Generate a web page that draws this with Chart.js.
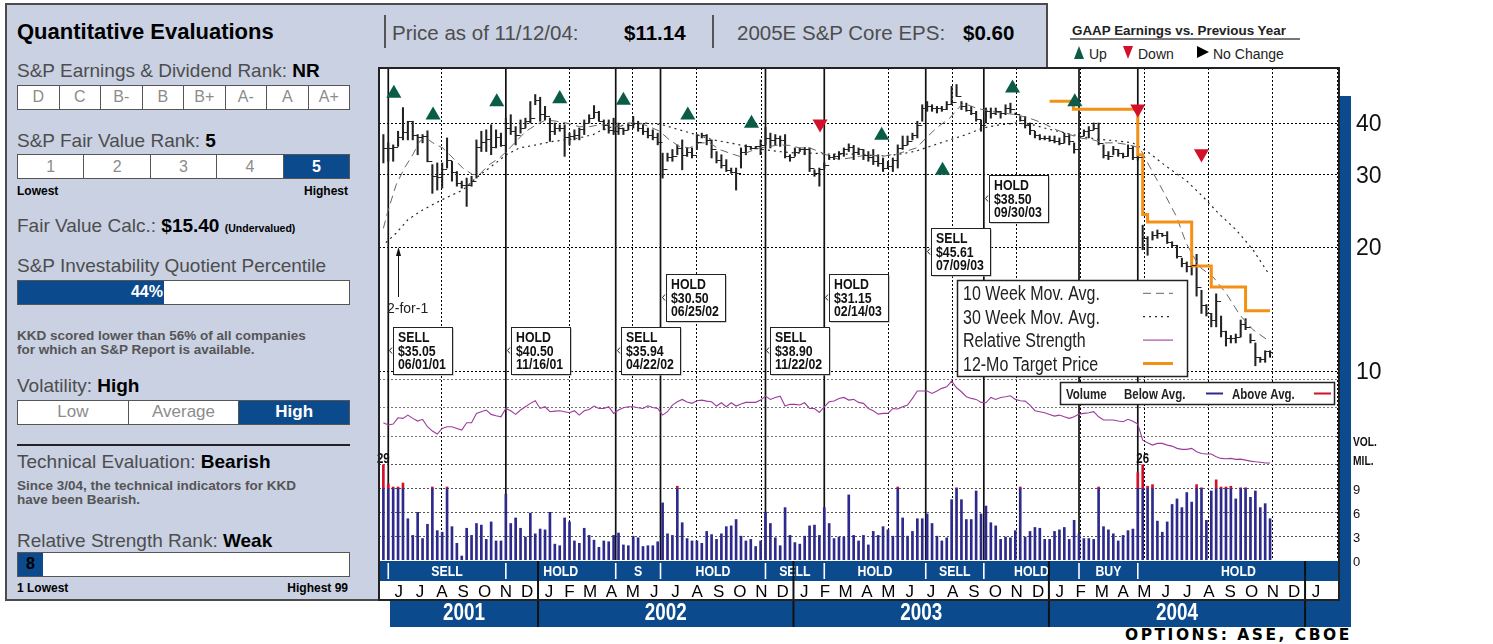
<!DOCTYPE html>
<html lang="en">
<head>
<meta charset="utf-8">
<title>KKD - Quantitative Evaluations</title>
<script src="https://cdn.jsdelivr.net/npm/chart.js@4.4.1/dist/chart.umd.min.js"></script>
<style>
  html, body { margin: 0; padding: 0; background: #fff; }
  body { position: relative; width: 1493px; height: 644px; overflow: hidden;
         font-family: "Liberation Sans", Arial, sans-serif; color: #4d4d4d; }
  #panel, #head { position: absolute; box-sizing: border-box; background: #c9d1e3; }
  #panel { left: 5px; top: 3px; width: 375px; height: 598px; border: 2px solid #4b4b4b; border-right: none; }
  #head { left: 378px; top: 3px; width: 670px; height: 66px; border-top: 2px solid #4b4b4b; border-right: 2px solid #4b4b4b; }
  .t { position: absolute; line-height: 1; white-space: nowrap; }
  .k { color: #000; font-weight: bold; }
  .cells { position: absolute; left: 17px; width: 333px; display: flex; box-sizing: border-box;
           border: 1.5px solid #555; background: #fff; }
  .cells span { flex: 1; text-align: center; border-left: 1.5px solid #555; color: #8c8c8c; }
  .cells span:first-child { border-left: none; }
  .cells .on { background: #0b4a8c; color: #fff; font-weight: bold; }
  .sep { position: absolute; width: 1.5px; background: #555; }
  .tri { position: absolute; width: 0; height: 0; }
  #chart { position: absolute; left: 0; top: 0; z-index: 2; }
</style>
</head>
<body>
<div id="panel"></div>
<div id="head"></div>

<div class="t k" style="left:17px;top:21px;font-size:22px">Quantitative Evaluations</div>
<div class="t" style="left:17px;top:60.5px;font-size:19px">S&amp;P Earnings &amp; Dividend Rank: <span class="k">NR</span></div>
<div class="cells" style="top:85px;height:25px;font-size:16px;line-height:22px">
  <span>D</span><span>C</span><span>B-</span><span>B</span><span>B+</span><span>A-</span><span>A</span><span>A+</span></div>
<div class="t" style="left:17px;top:130.5px;font-size:19px">S&amp;P Fair Value Rank: <span class="k">5</span></div>
<div class="cells" style="top:154px;height:25px;font-size:16px;line-height:23px">
  <span>1</span><span>2</span><span>3</span><span>4</span><span class="on">5</span></div>
<div class="t k" style="left:17px;top:185px;font-size:12px">Lowest</div>
<div class="t k" style="left:17px;top:185px;width:331px;text-align:right;font-size:12px">Highest</div>
<div class="t" style="left:17px;top:216px;font-size:19px">Fair Value Calc.: <span class="k">$15.40</span> <span class="k" style="font-size:10.5px">(Undervalued)</span></div>
<div class="t" style="left:17px;top:255.5px;font-size:19px">S&amp;P Investability Quotient Percentile</div>
<div class="cells" style="top:280px;height:25px;font-size:16px;line-height:22px">
  <span class="on" style="flex:none;width:146px;text-align:right;padding-right:1px;box-sizing:border-box">44%</span><span style="border-left:none"></span></div>
<div class="t" style="left:17px;top:329px;font-size:13.5px;line-height:13.6px;font-weight:bold;color:#555">KKD scored lower than 56% of all companies<br>for which an S&amp;P Report is available.</div>
<div class="t" style="left:17px;top:375.5px;font-size:19px">Volatility: <span class="k">High</span></div>
<div class="cells" style="top:400px;height:25px;font-size:17px;line-height:22px">
  <span>Low</span><span>Average</span><span class="on">High</span></div>
<div style="position:absolute;left:17px;top:444px;width:333px;height:1.5px;background:#222"></div>
<div class="t" style="left:17px;top:452px;font-size:19px">Technical Evaluation: <span class="k">Bearish</span></div>
<div class="t" style="left:17px;top:478.5px;font-size:13.5px;line-height:14.3px;font-weight:bold;color:#555">Since 3/04, the technical indicators for KKD<br>have been Bearish.</div>
<div class="t" style="left:17px;top:530.5px;font-size:19px">Relative Strength Rank: <span class="k">Weak</span></div>
<div class="cells" style="top:552px;height:25px;font-size:16px;line-height:22px">
  <span class="on" style="flex:none;width:25px;color:#000">8</span><span style="border-left:none"></span></div>
<div class="t k" style="left:17px;top:581.5px;font-size:12px">1 Lowest</div>
<div class="t k" style="left:17px;top:581.5px;width:331px;text-align:right;font-size:12px">Highest 99</div>

<div class="sep" style="left:384px;top:15px;height:33px"></div>
<div class="sep" style="left:712px;top:15px;height:33px"></div>
<div class="t" style="left:392px;top:22.5px;font-size:20.5px">Price as of 11/12/04:</div>
<div class="t k" style="left:624px;top:22.5px;font-size:20.5px">$11.14</div>
<div class="t" style="left:737px;top:22.5px;font-size:20.5px">2005E S&amp;P Core EPS:</div>
<div class="t k" style="left:963px;top:22.5px;font-size:20.5px">$0.60</div>

<div class="t" style="left:1072px;top:23.5px;font-size:13.4px;font-weight:bold;color:#222">GAAP Earnings vs. Previous Year</div>
<div style="position:absolute;left:1070px;top:38px;width:230px;height:2px;background:#777"></div>
<div class="tri" style="left:1074px;top:46px;border-left:5.5px solid transparent;border-right:5.5px solid transparent;border-bottom:13px solid #0b5c46"></div>
<div class="t" style="left:1089px;top:47px;font-size:14px;color:#222">Up</div>
<div class="tri" style="left:1123px;top:46px;border-left:5.5px solid transparent;border-right:5.5px solid transparent;border-top:13px solid #d3102a"></div>
<div class="t" style="left:1138px;top:47px;font-size:14px;color:#222">Down</div>
<div class="tri" style="left:1197px;top:46px;border-top:6.5px solid transparent;border-bottom:6.5px solid transparent;border-left:12px solid #000"></div>
<div class="t" style="left:1213px;top:47px;font-size:14px;color:#222">No Change</div>
<div class="t" style="left:1125px;top:628px;font-size:15.5px;font-family:'DejaVu Sans',sans-serif;font-weight:bold;letter-spacing:2.5px;color:#000">OPTIONS: ASE, CBOE</div>

<canvas id="chart" width="1493" height="644"></canvas>

<script>
// weekly bars, first bar is the week ending 2001-05-25
const weekStart = '2001-05-25';
const highs = [37.5,35.8,35.4,38.2,43.6,40.4,40.4,37.5,37.5,38.3, 31.7,32.0,32.0,36.8,32.3,30.5,28.9,29.4,29.7,36.4,
  38.2,38.5,39.6,38.5,37.8,41.1,41.9,39.2,40.7,41.1, 45.1,46.9,46.2,43.9,41.1,40.0,39.6,39.6,37.8,38.5,
  38.9,40.7,41.9,44.1,42.7,40.7,40.7,41.1,40.0,38.9, 40.0,41.5,40.4,39.6,38.9,38.5,37.8,33.8,33.8,34.5,
  35.4,36.4,34.8,34.8,37.5,37.8,37.5,36.4,34.1,33.5, 32.6,31.1,31.1,34.8,35.4,35.1,35.1,36.4,39.0,37.8,
  37.5,37.2,37.5,33.5,34.8,34.8,34.9,34.8,30.8,31.1, 32.0,33.4,33.6,34.1,34.8,35.6,35.3,34.8,34.5,34.1,
  34.5,33.5,32.9,32.3,32.9,35.4,37.2,37.2,37.8,40.4, 44.3,45.1,44.3,43.9,43.9,45.1,49.1,49.6,45.1,44.7,
  43.9,42.7,40.7,43.5,43.5,43.5,42.7,44.3,44.7,42.3, 41.5,41.5,40.0,38.2,37.5,37.2,37.2,37.2,36.8,37.8,
  37.5,35.8,37.8,38.5,39.2,40.0,40.0,35.4,34.1,35.1, 34.5,33.8,35.4,35.1,33.5,22.6,21.2,21.8,22.0,21.6,
  21.8,20.6,20.2,18.8,18.4,18.3,19.2,15.7,14.5,13.8, 15.4,13.6,12.5,12.2,12.3,13.3,13.4,12.3,11.7,10.8,
  11.2,11.2];
const lows = [32.0,32.3,32.3,35.1,36.4,36.4,36.4,33.5,35.8,32.2, 27.0,27.5,27.8,31.1,28.9,28.1,27.8,25.1,28.1,29.4,
  34.1,34.1,33.5,34.8,35.1,34.1,37.5,35.4,37.8,38.9, 40.0,44.3,40.4,40.7,36.1,37.5,38.2,33.2,35.4,36.4,
  36.4,37.5,40.0,41.1,40.4,38.5,37.8,37.5,37.5,37.5, 38.5,38.9,38.2,37.5,36.8,36.4,35.4,29.4,32.3,32.3,
  33.5,30.8,33.2,32.9,34.5,36.8,35.4,32.9,32.0,31.1, 30.5,30.2,27.5,31.1,33.5,34.5,34.6,33.5,35.4,34.8,
  35.4,35.1,32.9,32.3,33.2,34.1,33.5,30.5,29.7,28.1, 31.1,32.6,32.6,32.6,33.2,34.1,32.6,33.5,32.6,32.3,
  31.7,31.4,30.5,31.1,30.5,31.1,34.5,35.4,36.4,36.8, 40.4,42.7,42.7,42.3,42.7,43.1,44.3,46.4,43.1,42.7,
  41.9,40.4,38.2,40.0,41.1,41.9,41.1,41.9,42.3,41.9, 40.4,38.9,37.5,36.8,36.4,36.4,36.1,35.8,35.4,35.8,
  35.4,33.8,36.4,37.2,36.8,38.5,35.4,32.9,32.6,33.5, 33.2,32.9,33.2,32.6,32.5,19.7,19.1,20.8,21.0,21.2,
  20.4,20.0,18.8,17.9,17.4,17.1,15.2,13.8,13.6,12.8, 12.8,12.1,11.5,11.7,11.7,12.1,12.6,11.7,10.3,10.5,
  10.5,10.8];
const closes = [34.8,34.8,35.0,37.0,38.0,40.4,37.5,37.0,37.2,32.3, 29.8,29.5,31.0,32.5,30.5,28.6,28.3,28.3,29.0,35.0,
  36.0,36.5,35.0,37.0,35.4,39.0,38.2,37.5,39.0,40.4, 41.1,45.5,42.0,41.5,38.2,38.9,38.9,37.0,37.2,37.5,
  38.6,40.0,41.1,42.5,40.4,39.6,38.5,38.2,38.9,38.5, 39.6,40.0,39.0,38.2,37.5,37.0,36.0,31.0,33.0,33.2,
  34.8,33.5,34.0,33.5,36.0,37.5,36.4,34.5,32.5,31.7, 30.8,30.5,30.2,34.1,35.1,34.8,35.1,35.4,36.8,36.4,
  36.8,36.4,33.2,33.0,34.1,34.5,34.5,31.1,30.2,31.0, 31.7,33.0,33.2,33.8,34.5,35.0,34.0,34.5,33.5,33.0,
  32.3,32.0,31.1,31.4,32.6,34.8,35.4,36.1,37.5,39.5, 43.5,43.9,43.5,43.5,43.2,44.5,45.0,46.5,44.0,43.1,
  42.3,41.0,39.6,42.7,42.3,42.7,42.3,43.5,43.2,42.0, 40.7,39.6,38.5,37.5,36.8,36.8,36.4,36.1,35.8,37.2,
  36.1,34.5,37.2,38.2,38.5,39.0,35.8,33.5,33.2,34.5, 33.8,33.2,34.8,33.0,33.0,21.0,20.0,21.4,21.6,21.4,
  20.6,20.2,19.0,18.3,18.0,18.1,16.0,14.5,13.8,13.3, 14.8,12.5,12.0,12.0,12.1,13.0,12.8,11.9,10.8,10.7,
  11.2,11.1];
// weekly volume, millions of shares
const volumes = [29,9.6,9.2,9.2,9.7,5.2,3.1,6.0,2.7,4.5, 9.2,3.7,3.5,9.2,4.2,2.1,0.5,4.0,3.1,4.6,
  4.4,2.6,4.8,2.4,2.4,8.3,4.6,5.3,4.0,2.9, 5.9,3.3,3.9,3.8,6.0,2.0,1.8,5.3,4.8,2.4,
  2.1,4.0,3.1,2.5,1.6,2.4,2.3,3.1,3.4,1.9, 1.8,3.0,2.8,1.7,1.8,1.8,2.3,7.2,3.3,3.1,
  9.3,4.7,2.7,2.4,2.4,2.1,3.6,3.2,2.6,3.3, 4.2,4.3,5.1,3.0,2.4,2.6,1.7,2.4,6.0,4.6,
  2.8,1.8,6.6,3.1,2.2,2.0,3.0,4.3,4.4,3.1, 6.6,4.6,2.7,2.9,2.9,8.2,3.1,2.4,3.1,1.9,
  3.6,3.1,4.2,3.8,3.0,9.2,5.3,3.0,3.6,5.2, 5.2,5.8,4.6,3.0,2.4,2.8,7.6,9.1,7.6,5.1,
  5.1,8.7,5.8,6.8,4.7,4.3,2.6,2.9,2.8,3.7, 9.2,2.9,3.6,4.1,4.0,2.6,2.6,3.6,3.8,4.1,
  2.6,5.0,3.3,2.7,2.7,2.6,9.2,4.2,3.8,3.3, 2.4,3.1,3.7,3.9,11.0,26,9.3,9.5,4.9,3.5,
  4.8,7.0,7.7,6.6,8.5,7.3,9.5,9.1,5.0,8.7, 10.1,9.2,9.2,9.3,7.7,9.1,9.1,7.9,8.7,6.6,
  7.1,5.2];
// relative strength, index units
const relStrength = [89.4,87.8,88.5,92.9,92.5,94.8,92.5,90.6,91.8,86.6, 83.5,81.4,85.4,86.6,86.6,85.4,84.2,89.4,89.4,96.0,
  97.2,98.4,95.3,94.3,93.6,99.5,97.9,95.3,98.4,100.7, 103.1,104.9,99.5,100.7,97.2,97.6,97.9,97.2,96.5,97.9,
  94.8,97.9,98.8,101.2,99.5,99.5,100.7,96.0,98.4,100.0, 100.7,100.7,100.0,99.5,101.4,100.2,99.5,94.8,97.2,101.9,
  104.2,105.9,104.0,103.1,104.9,105.4,104.7,104.2,101.2,103.5, 100.7,103.5,101.2,102.6,103.8,103.8,103.8,105.4,108.2,105.9,
  107.3,108.2,101.2,102.4,102.4,101.9,103.5,99.5,99.5,96.7, 100.7,104.2,104.7,106.6,107.3,105.4,105.9,103.8,103.1,99.5,
  97.9,95.5,96.0,96.0,99.5,99.1,100.7,101.9,106.6,111.8, 111.8,111.8,110.1,111.8,113.7,114.8,118.8,114.1,111.3,107.8,
  106.6,105.9,103.8,103.5,107.3,105.9,107.3,107.8,108.5,105.9, 104.9,104.7,101.9,97.9,97.2,96.5,95.3,94.1,94.8,93.6,
  92.5,93.6,95.5,96.0,96.5,97.2,93.6,91.3,91.3,91.3, 90.6,90.1,91.8,90.5,88.5,77.1,75.3,73.6,74.8,74.8,
  73.6,72.9,71.3,70.6,70.6,71.3,68.9,67.7,67.3,67.3, 65.4,64.2,64.0,64.2,63.5,63.7,63.0,62.3,61.8,61.5,
  61.0,61.0];
// moving averages, keyed by week number
const ma10Weeks = [0,0.9,2.6,4.3,6.0,7.4,8.7,10.1,12.1,14.2, 16.2,18.2,19.6,21.6,23.7,25.1,27.1,29.1,31.2,33.2,
  35.3,37.3,40.0,42.1,44.1,46.2,48.2,50.2,52.3,54.3, 56.4,58.4,60.4,62.5,64.5,66.6,68.6,70.7,72.7,74.7,
  76.8,78.8,80.9,82.9,85.0,87.0,89.0,91.1,93.1,95.2, 97.2,98.6,102.0,105.4,108.8,110.8,112.9,115.6,118.3,121.0,
  123.8,126.5,129.2,131.9,134.6,137.4,140.1,142.1,144.9,146.9, 149.6,152.3,154.4,156.4,159.2,161.9,163.9,166.6,169.4,172.1,
  174.8,177.5,180.9];
const ma10 = [22.2,24.4,28.3,31.1,33.5,36.1,36.8,35.8,34.8,32.9, 31.1,30.0,30.0,31.7,32.9,34.1,36.1,38.2,39.6,40.7,
  40.4,40.0,39.2,39.2,39.6,39.6,39.2,40.0,40.0,39.2, 38.2,36.4,35.1,34.8,35.8,35.8,34.5,33.8,33.2,34.1,
  34.8,35.1,35.4,35.3,34.8,34.8,34.1,33.2,32.6,32.9, 33.2,33.5,33.2,33.8,34.8,36.8,38.9,41.1,44.7,43.5,
  42.7,42.3,41.9,41.1,40.0,38.5,37.5,36.8,36.4,35.8, 35.8,35.4,34.8,31.4,27.3,23.7,20.4,17.9,16.9,15.4,
  13.7,12.6,11.8];
const ma30Weeks = [0.5,2.6,5.0,8.0,12.1,16.2,18.9,21.6,25.1,27.8, 31.2,34.6,37.3,40.0,42.8,44.1,46.8,50.2,53.6,57.0,
  60.4,63.9,67.3,70.7,74.1,77.5,80.9,84.3,87.7,91.1, 94.5,97.2,98.6,102.0,105.4,108.8,112.2,115.6,119.0,122.4,
  125.8,129.2,132.6,136.0,139.4,142.8,146.2,149.6,153.0,156.4, 159.8,163.9,167.3,170.7,174.1,177.5,180.9];
const ma30 = [20.5,21.6,23.3,24.6,26.1,27.5,29.4,31.1,33.5,34.8, 35.4,36.1,36.4,36.8,37.5,38.2,39.2,39.6,40.0,39.6,
  38.5,37.5,36.4,35.8,35.1,34.5,34.1,33.8,33.8,33.6, 33.6,33.6,33.4,33.3,33.6,34.2,35.3,36.4,37.5,38.9,
  39.6,40.0,39.6,38.6,37.8,37.0,36.5,36.2,35.8,33.8, 31.4,29.0,26.5,24.0,22.0,19.7,17.1];
// 12-month target price changes
const targetDates = ['2004-01-02','2004-02-05','2004-05-07','2004-05-14','2004-05-21','2004-07-23','2004-08-20','2004-10-08','2004-11-12'];
const targetPrices = [45.2, 43.2, 33.5, 24.0, 23.0, 18.0, 16.0, 14.0, 14.0];
// GAAP earnings vs previous year markers
const gaapDates = ['2001-06-09','2001-08-04','2001-11-03','2002-02-01','2002-05-03','2002-08-03','2002-11-02',
  '2003-02-08','2003-05-07','2003-08-02','2003-11-10','2004-02-07','2004-05-07','2004-08-06'];
const gaapLevels = [47.2, 41.8, 45.0, 45.8, 45.4, 41.8, 39.9, 39.8, 37.3, 30.7, 48.6, 45.0, 43.3, 33.7];
const gaapMoves = ['up','up','up','up','up','up','up','down','up','up','up','up','down','down'];
// S&P recommendation changes
const callDates = ['2001-06-01','2001-11-16','2002-04-22','2002-06-25','2002-11-22','2003-02-14','2003-07-09','2003-09-30','2004-02-13','2004-05-07'];
const calls = ['SELL','HOLD','SELL','HOLD','SELL','HOLD','SELL','HOLD','BUY','HOLD'];
const callPrices = [35.05, 40.50, 35.94, 30.50, 38.90, 31.15, 45.61, 38.50, null, null];
const splitDate = '2001-06-15';
const priceTicks = [10, 20, 30, 40];
const volumeTicks = [0, 3, 6, 9];
const monthLetters = ['J','F','M','A','M','J','J','A','S','O','N','D'];
const years = [2001, 2002, 2003, 2004];

const SANS = '"Liberation Sans", Arial, sans-serif';
const BLUE = '#0b4a8c', GREEN = '#0b5c46', RED = '#d3102a', ORANGE = '#f39116', PURPLE = '#9c3c9c', NAVY = '#2d2a8c';

const dayOf = s => {
  const p = s.split('-').map(Number);
  return (Date.UTC(p[0], p[1] - 1, p[2]) - Date.UTC(2001, 0, 1)) / 864e5;
};
const w0 = dayOf(weekStart);
const weekDay = i => w0 + 7 * i;
const X_MIN = 137.75, X_MAX = 1509.5;

const quarterDays = [];
for (let y = 2001; y <= 2005; y++) {
  for (const m of ['01', '04', '07', '10']) {
    const d = dayOf(`${y}-${m}-01`);
    if (d > X_MIN && d < X_MAX) quarterDays.push(d);
  }
}

function seg(ctx, x1, y1, x2, y2) {
  ctx.beginPath(); ctx.moveTo(x1, y1); ctx.lineTo(x2, y2); ctx.stroke();
}
// condensed text: squeeze Liberation Sans horizontally
function narrow(ctx, text, x, y, sx) {
  ctx.save();
  ctx.translate(x, y);
  ctx.scale(sx || 0.82, 1);
  ctx.fillText(text, 0, 0);
  ctx.restore();
}
function fmtDate(s) {
  const p = s.split('-');
  return `${p[1]}/${p[2]}/${p[0].slice(2)}`;
}

const deco = {
  id: 'deco',
  beforeDatasetsDraw(chart) {
    const { ctx, chartArea: a, scales: { x } } = chart;
    ctx.save();
    ctx.strokeStyle = '#111';
    ctx.lineWidth = 1.7;
    callDates.forEach(d => {
      const px = x.getPixelForValue(dayOf(d));
      seg(ctx, px, a.top, px, a.bottom);
    });
    ctx.restore();
  },
  afterDatasetsDraw(chart) {
    const { ctx, chartArea: a, scales: { x, yP, yV } } = chart;
    ctx.save();
    ctx.beginPath();
    ctx.rect(a.left, a.top, a.right - a.left, a.bottom - a.top);
    ctx.clip();
    // open / close ticks on the weekly bars
    ctx.strokeStyle = '#222';
    ctx.lineWidth = 1;
    closes.forEach((c, i) => {
      const px = x.getPixelForValue(weekDay(i));
      const yc = Math.round(yP.getPixelForValue(c)) + 0.5;
      seg(ctx, px, yc, px + 2.6, yc);
      if (i > 0) {
        const yo = Math.round(yP.getPixelForValue(closes[i - 1])) + 0.5;
        seg(ctx, px - 2.6, yo, px, yo);
      }
    });
    ctx.restore();

    ctx.save();
    // volume values that run off the top of the panel
    ctx.fillStyle = '#111';
    ctx.font = `bold 14px ${SANS}`;
    ctx.textAlign = 'center';
    volumes.forEach((v, i) => {
      if (v > 12) narrow(ctx, String(Math.round(v)), x.getPixelForValue(weekDay(i)), yV.getPixelForValue(12) - 2);
    });

    // stock split note
    const sx = Math.round(x.getPixelForValue(dayOf(splitDate))) + 0.5;
    ctx.strokeStyle = '#111';
    ctx.lineWidth = 1;
    seg(ctx, sx, 250, sx, 297);
    ctx.beginPath(); ctx.moveTo(sx, 247); ctx.lineTo(sx - 2.5, 256); ctx.lineTo(sx + 2.5, 256); ctx.closePath(); ctx.fill();
    ctx.font = `14px ${SANS}`;
    ctx.textAlign = 'left';
    ctx.fillStyle = '#222';
    ctx.fillText('2-for-1', 387, 313);

    // recommendation boxes
    const boxTop = [327, 327, 327, 274, 327, 274, 228, 175];
    ctx.font = `bold 15px ${SANS}`;
    callDates.forEach((d, i) => {
      if (callPrices[i] == null) return;
      const bx = Math.round(x.getPixelForValue(dayOf(d))) + 5, by = boxTop[i], w = 59, h = 47;
      ctx.fillStyle = '#9a9a9a';
      ctx.fillRect(bx + 1.5, by + 1.5, w, h);
      ctx.fillStyle = '#fff';
      ctx.fillRect(bx, by, w, h);
      ctx.strokeStyle = '#222';
      ctx.lineWidth = 1;
      ctx.strokeRect(bx + 0.5, by + 0.5, w, h);
      ctx.beginPath();
      ctx.moveTo(bx - 1, by + h / 2 - 3); ctx.lineTo(bx - 3.5, by + h / 2); ctx.lineTo(bx - 1, by + h / 2 + 3);
      ctx.stroke();
      ctx.fillStyle = '#111';
      narrow(ctx, calls[i], bx + 5, by + 15);
      narrow(ctx, '$' + callPrices[i].toFixed(2), bx + 5, by + 28.5);
      narrow(ctx, fmtDate(d), bx + 5, by + 42);
    });

    // line legend
    const items = chart.data.datasets.filter(ds => ds.legendText)
      .sort((p, q) => p.legendOrder - q.legendOrder);
    ctx.fillStyle = '#fff';
    ctx.fillRect(957, 280, 230, 96);
    ctx.strokeStyle = '#222';
    ctx.lineWidth = 1.5;
    ctx.strokeRect(957.5, 280.5, 230, 96);
    ctx.font = `19.5px ${SANS}`;
    items.forEach((ds, k) => {
      const ly = 293.3 + k * 23.4;
      ctx.fillStyle = '#222';
      narrow(ctx, ds.legendText, 963, ly + 7);
      ctx.strokeStyle = ds.borderColor;
      ctx.lineWidth = ds.borderWidth;
      ctx.setLineDash(ds.borderDash || []);
      seg(ctx, 1143, ly, 1173, ly);
      ctx.setLineDash([]);
    });

    // volume legend
    ctx.fillStyle = '#fff';
    ctx.fillRect(1060, 382, 274, 22);
    ctx.strokeStyle = '#222';
    ctx.lineWidth = 1.5;
    ctx.strokeRect(1060.5, 382.5, 274, 22);
    ctx.font = `bold 14px ${SANS}`;
    ctx.fillStyle = '#222';
    narrow(ctx, 'Volume', 1066, 398.5);
    narrow(ctx, 'Below Avg.', 1124, 398.5);
    narrow(ctx, 'Above Avg.', 1232, 398.5);
    ctx.lineWidth = 2;
    ctx.strokeStyle = NAVY; seg(ctx, 1206, 393.5, 1223, 393.5);
    ctx.strokeStyle = RED; seg(ctx, 1314, 393.5, 1331, 393.5);
    ctx.restore();
  },
  afterDraw(chart) {
    const { ctx, chartArea: a, scales: { x, yP, yV } } = chart;
    const px = d => x.getPixelForValue(d);
    ctx.save();
    // recommendation band, month row, year band, right strip
    ctx.fillStyle = BLUE;
    ctx.fillRect(a.left, 561, a.right - a.left, 20);
    ctx.fillStyle = '#fff';
    ctx.fillRect(a.left, 581, a.right - a.left, 19);
    ctx.fillStyle = BLUE;
    ctx.fillRect(390, 600, 961, 27);
    ctx.fillRect(a.right + 1, 96, 11, 531);

    const callPx = callDates.map(d => px(dayOf(d)));
    ctx.strokeStyle = '#fff';
    ctx.lineWidth = 1.6;
    callPx.forEach(p => seg(ctx, p, 563, p, 579));
    ctx.fillStyle = '#fff';
    ctx.font = `bold 15px ${SANS}`;
    ctx.textAlign = 'center';
    callPx.forEach((p, i) => {
      const end = i < callPx.length - 1 ? callPx[i + 1] : a.right;
      const label = end - p < 50 ? calls[i][0] : calls[i];
      narrow(ctx, label, (p + end) / 2, 576);
    });

    // month letters
    ctx.fillStyle = '#000';
    ctx.font = `17px ${SANS}`;
    for (let y = 2001; y <= 2005; y++) {
      for (let m = 0; m < 12; m++) {
        const s = (Date.UTC(y, m, 1) - Date.UTC(2001, 0, 1)) / 864e5;
        const e = (Date.UTC(y, m + 1, 1) - Date.UTC(2001, 0, 1)) / 864e5;
        if (s < X_MIN || e > X_MAX) continue;
        ctx.fillText(monthLetters[m], (px(s) + px(e)) / 2, 597);
      }
    }

    // years
    ctx.fillStyle = '#fff';
    ctx.font = `bold 23px ${SANS}`;
    years.forEach(y => {
      const l = Math.max(px(dayOf(`${y}-01-01`)), 390);
      const r = px(dayOf(`${y + 1}-01-01`));
      narrow(ctx, String(y), (l + r) / 2, 620);
    });
    ctx.strokeStyle = '#111';
    ctx.lineWidth = 2;
    [2002, 2003, 2004, 2005].forEach(y => {
      const p = px(dayOf(`${y}-01-01`));
      seg(ctx, p, 561, p, 627);
    });

    // frame
    ctx.strokeStyle = '#222';
    ctx.lineWidth = 2;
    seg(ctx, 378, 68, a.right + 1, 68);
    seg(ctx, a.left, 68, a.left, 601);
    seg(ctx, a.right, 68, a.right, 601);
    seg(ctx, a.left, 600, a.right, 600);

    // axis labels on the right
    ctx.textAlign = 'left';
    ctx.fillStyle = '#111';
    ctx.font = `23px ${SANS}`;
    priceTicks.forEach(v => ctx.fillText(String(v), 1356, yP.getPixelForValue(v) + 8.3));
    ctx.font = `bold 12.5px ${SANS}`;
    narrow(ctx, 'VOL.', 1353, 446);
    narrow(ctx, 'MIL.', 1353, 465);
    ctx.font = `13px ${SANS}`;
    volumeTicks.forEach(v => ctx.fillText(String(v), 1353, yV.getPixelForValue(v) + 5.5));
    ctx.restore();
  }
};

const priceBars = highs.map((h, i) => ({ x: weekDay(i), y: [lows[i], h] }));
const volBelow = volumes.map((v, i) => ({ x: weekDay(i), y: Math.min(v, 9) }));
const volAbove = volumes.map((v, i) => (v > 9 ? { x: weekDay(i), y: [9, Math.min(v, 12)] } : null)).filter(Boolean);
const gaapPts = dir => gaapDates.map((d, i) => ({ x: dayOf(d), y: gaapLevels[i], dir: gaapMoves[i] }))
  .filter(p => p.dir === dir);

new Chart(document.getElementById('chart'), {
  type: 'line',
  data: {
    datasets: [
      { type: 'scatter', data: gaapPts('up'), yAxisID: 'yP', pointStyle: 'triangle', pointRadius: 8.7,
        backgroundColor: GREEN, borderWidth: 0, order: 0 },
      { type: 'scatter', data: gaapPts('down'), yAxisID: 'yP', pointStyle: 'triangle', pointRadius: 8.7,
        rotation: 180, backgroundColor: RED, borderWidth: 0, order: 0 },
      { data: targetDates.map((d, i) => ({ x: dayOf(d), y: targetPrices[i] })), yAxisID: 'yP',
        borderColor: ORANGE, borderWidth: 3, stepped: 'before', pointRadius: 0, order: 1,
        legendText: '12-Mo Target Price', legendOrder: 3 },
      { data: ma10Weeks.map((w, i) => ({ x: weekDay(w), y: ma10[i] })), yAxisID: 'yP',
        borderColor: '#666', borderWidth: 1, borderDash: [8, 5], pointRadius: 0, order: 2,
        legendText: '10 Week Mov. Avg.', legendOrder: 0 },
      { data: ma30Weeks.map((w, i) => ({ x: weekDay(w), y: ma30[i] })), yAxisID: 'yP',
        borderColor: '#2a2a2a', borderWidth: 1.2, borderDash: [2, 4], pointRadius: 0, order: 2,
        legendText: '30 Week Mov. Avg.', legendOrder: 1 },
      { type: 'bar', data: priceBars, yAxisID: 'yP', backgroundColor: '#222', barThickness: 1.4,
        grouped: false, order: 3 },
      { data: relStrength.map((v, i) => ({ x: weekDay(i), y: v })), yAxisID: 'yR',
        borderColor: PURPLE, borderWidth: 1.1, pointRadius: 0, order: 4,
        legendText: 'Relative Strength', legendOrder: 2 },
      { type: 'bar', data: volBelow, yAxisID: 'yV', backgroundColor: NAVY, barThickness: 2,
        grouped: false, order: 5 },
      { type: 'bar', data: volAbove, yAxisID: 'yV', backgroundColor: RED, barThickness: 2,
        grouped: false, order: 5 }
    ]
  },
  options: {
    responsive: false,
    animation: false,
    devicePixelRatio: 1,
    layout: { padding: { left: 379, right: 154, top: 68, bottom: 84 } },
    plugins: { legend: { display: false }, tooltip: { enabled: false } },
    elements: { line: { tension: 0 } },
    scales: {
      x: {
        type: 'linear', min: X_MIN, max: X_MAX, offset: false,
        afterFit: s => { s.height = 0; },
        afterBuildTicks: s => { s.ticks = quarterDays.map(v => ({ value: v })); },
        ticks: { display: false },
        grid: { color: '#000', lineWidth: 1, drawTicks: false },
        border: { display: false, dash: [2, 2] }
      },
      yP: {
        type: 'logarithmic', min: 3.478, max: 54.4, position: 'right',
        afterFit: s => { s.width = 0; },
        afterBuildTicks: s => { s.ticks = priceTicks.map(v => ({ value: v })); },
        ticks: { display: false },
        grid: { color: '#000', lineWidth: 1, drawTicks: false },
        border: { display: false, dash: [2, 2] }
      },
      yR: {
        type: 'linear', min: -7.6, max: 340.1, position: 'right',
        afterFit: s => { s.width = 0; },
        afterBuildTicks: s => { s.ticks = [80, 100, 120].map(v => ({ value: v })); },
        ticks: { display: false },
        grid: { color: '#777', lineWidth: 1, drawTicks: false },
        border: { display: false, dash: [2, 2] }
      },
      yV: {
        type: 'linear', min: 0, max: 62.0, position: 'right',
        afterFit: s => { s.width = 0; },
        afterBuildTicks: s => { s.ticks = [3, 6, 9, 12].map(v => ({ value: v })); },
        ticks: { display: false },
        grid: { color: '#555', lineWidth: 1, drawTicks: false },
        border: { display: false, dash: [2, 2] }
      }
    }
  },
  plugins: [deco]
});
</script>
</body>
</html>
